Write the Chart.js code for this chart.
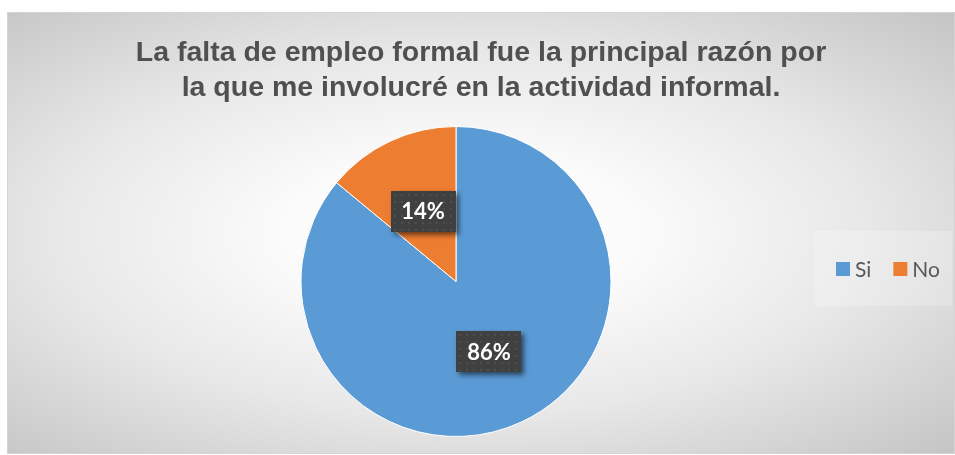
<!DOCTYPE html>
<html>
<head>
<meta charset="utf-8">
<script src="https://cdn.jsdelivr.net/npm/chart.js@4"></script>
<style>
  html, body { margin:0; padding:0; background:#fff; }
  #wrap {
    position:absolute; left:7px; top:12px; width:948px; height:442px;
    background: radial-gradient(ellipse farthest-corner at 48% 50%, #ffffff 0%, #fbfbfb 25%, #e8e8e8 58%, #c4c4c4 100%);
    outline:1px solid #d4d4d4; outline-offset:-1px;
  }
</style>
</head>
<body>
<div id="wrap"><canvas id="chart" width="948" height="442"></canvas></div>
<script>
// data
const titleLines = ['La falta de empleo formal fue la principal razón por', 'la que me involucré en la actividad informal.'];
const categories = ['Si', 'No'];
const percents = [86, 14];
const sliceColors = ['#5B9BD5', '#ED7D31'];

// dark label box with a faint dot texture
function makeDots(ctx) {
  const c = document.createElement('canvas');
  c.width = 7; c.height = 7;
  const p = c.getContext('2d');
  p.fillStyle = '#404040'; p.fillRect(0, 0, 7, 7);
  p.fillStyle = '#4e4e4e'; p.fillRect(3, 3, 2, 2);
  return ctx.createPattern(c, 'repeat');
}

const boxLabels = {
  id: 'boxLabels',
  afterDatasetsDraw(chart) {
    const ctx = chart.ctx;
    const meta = chart.getDatasetMeta(0);
    const pat = makeDots(ctx);
    meta.data.forEach((arc, i) => {
      const pos = arc.tooltipPosition();
      const w = 65, h = 41;
      const x = Math.round(pos.x - w / 2), y = Math.round(pos.y - h / 2);
      ctx.save();
      ctx.shadowColor = 'rgba(0,0,0,0.55)';
      ctx.shadowBlur = 5;
      ctx.shadowOffsetX = 3;
      ctx.shadowOffsetY = 3;
      ctx.fillStyle = '#404040';
      ctx.fillRect(x, y, w, h);
      ctx.restore();
      ctx.save();
      ctx.fillStyle = pat;
      ctx.translate(x, y);
      ctx.fillRect(0, 0, w, h);
      ctx.restore();
      ctx.save();
      ctx.fillStyle = '#ffffff';
      ctx.font = 'bold 22px Lato';
      ctx.textAlign = 'center';
      ctx.textBaseline = 'middle';
      ctx.fillText(percents[i] + '%', pos.x, pos.y + 1);
      ctx.restore();
    });
  }
};

function drawLegend(chart) {
  const ctx = chart.ctx;
  const bx = 808, by = 219, bw = 137, bh = 75;
  ctx.save();
  ctx.fillStyle = 'rgba(255,255,255,0.22)';
  ctx.fillRect(bx, by, bw, bh);
  ctx.font = '21px Lato';
  ctx.textBaseline = 'middle';
  let x = bx + 21;
  const cy = by + 38;
  categories.forEach((c, i) => {
    ctx.fillStyle = sliceColors[i];
    ctx.fillRect(x, cy - 7, 14, 14);
    x += 19;
    ctx.fillStyle = '#595959';
    ctx.fillText(c, x, cy + 1);
    x += ctx.measureText(c).width + 22;
  });
  ctx.restore();
}

// legend as a layout box on the right, so the pie sits left of centre
// while the (full width) title stays centred
const sideLegend = {
  id: 'sideLegend',
  beforeInit(chart) {
    Chart.layouts.addBox(chart, {
      position: 'right', weight: 1000, fullSize: false, options: {},
      left: 0, top: 0, right: 0, bottom: 0, width: 0, height: 0,
      isHorizontal() { return false; },
      update(maxWidth, maxHeight) { this.width = 50; this.height = maxHeight; },
      draw() { drawLegend(chart); }
    });
  }
};

new Chart(document.getElementById('chart'), {
  type: 'pie',
  data: {
    labels: categories,
    datasets: [{
      data: percents,
      backgroundColor: sliceColors,
      borderColor: '#ffffff',
      borderWidth: 1
    }]
  },
  options: {
    responsive: false,
    animation: false,
    layout: { padding: { left: 0, right: 0, top: 0, bottom: 17 } },
    plugins: {
      legend: { display: false },
      tooltip: { enabled: false },
      title: {
        display: true,
        text: titleLines,
        color: '#505050',
        font: { family: "Arial, 'Liberation Sans', sans-serif", size: 28.5, weight: 'bold', lineHeight: '35px' },
        padding: { top: 24, bottom: 20 }
      }
    }
  },
  plugins: [sideLegend, boxLabels]
});
</script>
</body>
</html>
